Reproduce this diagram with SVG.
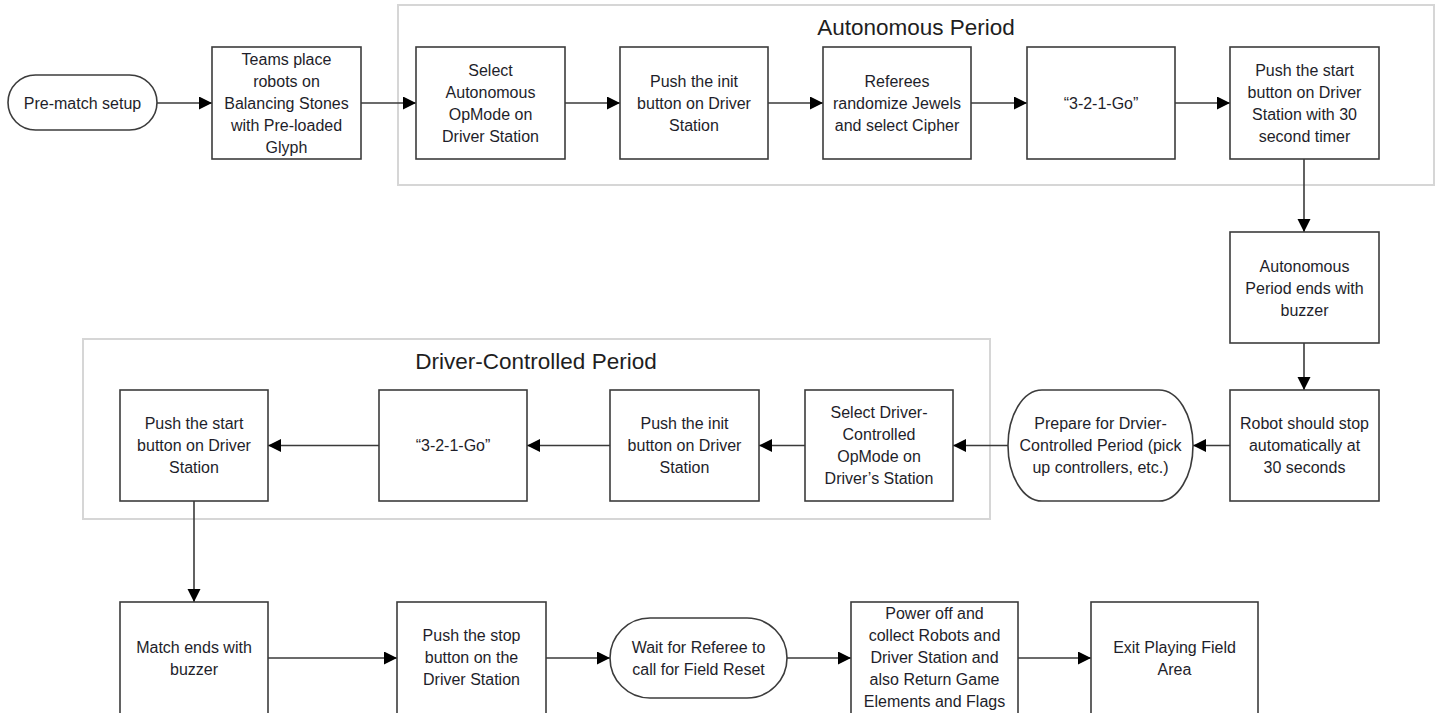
<svg xmlns="http://www.w3.org/2000/svg" width="1435" height="713" viewBox="0 0 1435 713">
<style>
.bg{fill:#ffffff}
.grp{fill:none;stroke:#d6d6d6;stroke-width:2}
.box{fill:#ffffff;stroke:#3c3c3c;stroke-width:1.6}
.t{font-family:"Liberation Sans",Arial,sans-serif;font-size:16px;fill:#1e1e2a;text-anchor:middle}
.title{font-family:"Liberation Sans",Arial,sans-serif;font-size:22.5px;fill:#1e1e1e;text-anchor:middle}
.c{fill:none;stroke:#3a3a3a;stroke-width:1.6}
</style>
<defs>
<marker id="ah" markerUnits="userSpaceOnUse" markerWidth="14" markerHeight="14" refX="13" refY="6.5" orient="auto">
<path d="M0,0 L13,6.5 L0,13 z" fill="#000"/>
</marker>
</defs>
<rect class="bg" x="0" y="0" width="1435" height="713"/>

<g id="group-autonomous">
<rect class="grp" x="398" y="5" width="1036" height="180"/>
<text class="title" x="916" y="35">Autonomous Period</text>
</g>
<g id="group-driver">
<rect class="grp" x="83" y="339" width="907" height="180"/>
<text class="title" x="536" y="369">Driver-Controlled Period</text>
</g>

<g id="connectors">
<line class="c" x1="157" y1="103" x2="212" y2="103" marker-end="url(#ah)"/>
<line class="c" x1="361" y1="103" x2="416" y2="103" marker-end="url(#ah)"/>
<line class="c" x1="565" y1="103" x2="620" y2="103" marker-end="url(#ah)"/>
<line class="c" x1="768" y1="103" x2="823" y2="103" marker-end="url(#ah)"/>
<line class="c" x1="971" y1="103" x2="1027" y2="103" marker-end="url(#ah)"/>
<line class="c" x1="1175" y1="103" x2="1230" y2="103" marker-end="url(#ah)"/>
<line class="c" x1="1304" y1="159" x2="1304" y2="232" marker-end="url(#ah)"/>
<line class="c" x1="1304" y1="343" x2="1304" y2="390" marker-end="url(#ah)"/>
<line class="c" x1="1230" y1="445.5" x2="1193" y2="445.5" marker-end="url(#ah)"/>
<line class="c" x1="1008" y1="445.5" x2="953" y2="445.5" marker-end="url(#ah)"/>
<line class="c" x1="805" y1="445.5" x2="759" y2="445.5" marker-end="url(#ah)"/>
<line class="c" x1="610" y1="445.5" x2="527" y2="445.5" marker-end="url(#ah)"/>
<line class="c" x1="379" y1="445.5" x2="268" y2="445.5" marker-end="url(#ah)"/>
<line class="c" x1="194" y1="501" x2="194" y2="602" marker-end="url(#ah)"/>
<line class="c" x1="268" y1="658" x2="397" y2="658" marker-end="url(#ah)"/>
<line class="c" x1="546" y1="658" x2="610" y2="658" marker-end="url(#ah)"/>
<line class="c" x1="787" y1="658" x2="851" y2="658" marker-end="url(#ah)"/>
<line class="c" x1="1018" y1="658" x2="1091" y2="658" marker-end="url(#ah)"/>
</g>

<g id="n-prematch">
<rect class="box" x="8" y="75" width="149" height="55" rx="27.5" ry="27.5"/>
<text class="t" x="82.5" y="108.5">Pre-match setup</text>
</g>
<g id="n-teams">
<rect class="box" x="212" y="47" width="149" height="112"/>
<text class="t" x="286.5" y="64.5">Teams place<tspan x="286.5" dy="22">robots on</tspan><tspan x="286.5" dy="22">Balancing Stones</tspan><tspan x="286.5" dy="22">with Pre-loaded</tspan><tspan x="286.5" dy="22">Glyph</tspan></text>
</g>
<g id="n-select-auto">
<rect class="box" x="416" y="47" width="149" height="112"/>
<text class="t" x="490.5" y="75.5">Select<tspan x="490.5" dy="22">Autonomous</tspan><tspan x="490.5" dy="22">OpMode on</tspan><tspan x="490.5" dy="22">Driver Station</tspan></text>
</g>
<g id="n-init-auto">
<rect class="box" x="620" y="47" width="148" height="112"/>
<text class="t" x="694" y="86.5">Push the init<tspan x="694" dy="22">button on Driver</tspan><tspan x="694" dy="22">Station</tspan></text>
</g>
<g id="n-referees">
<rect class="box" x="823" y="47" width="148" height="112"/>
<text class="t" x="897" y="86.5">Referees<tspan x="897" dy="22">randomize Jewels</tspan><tspan x="897" dy="22">and select Cipher</tspan></text>
</g>
<g id="n-go-auto">
<rect class="box" x="1027" y="47" width="148" height="112"/>
<text class="t" x="1101" y="108.5">“3-2-1-Go”</text>
</g>
<g id="n-start-auto">
<rect class="box" x="1230" y="47" width="149" height="112"/>
<text class="t" x="1304.5" y="75.5">Push the start<tspan x="1304.5" dy="22">button on Driver</tspan><tspan x="1304.5" dy="22">Station with 30</tspan><tspan x="1304.5" dy="22">second timer</tspan></text>
</g>
<g id="n-auto-ends">
<rect class="box" x="1230" y="232" width="149" height="111"/>
<text class="t" x="1304.5" y="271.5">Autonomous<tspan x="1304.5" dy="22">Period ends with</tspan><tspan x="1304.5" dy="22">buzzer</tspan></text>
</g>
<g id="n-robot-stop">
<rect class="box" x="1230" y="390" width="149" height="111"/>
<text class="t" x="1304.5" y="428.5">Robot should stop<tspan x="1304.5" dy="22">automatically at</tspan><tspan x="1304.5" dy="22">30 seconds</tspan></text>
</g>
<g id="n-prepare">
<rect class="box" x="1008" y="390" width="185" height="111" rx="34" ry="55.5"/>
<text class="t" x="1100.5" y="428.5">Prepare for Drvier-<tspan x="1100.5" dy="22">Controlled Period (pick</tspan><tspan x="1100.5" dy="22">up controllers, etc.)</tspan></text>
</g>
<g id="n-select-dc">
<rect class="box" x="805" y="390" width="148" height="111"/>
<text class="t" x="879" y="417.5">Select Driver-<tspan x="879" dy="22">Controlled</tspan><tspan x="879" dy="22">OpMode on</tspan><tspan x="879" dy="22">Driver’s Station</tspan></text>
</g>
<g id="n-init-dc">
<rect class="box" x="610" y="390" width="149" height="111"/>
<text class="t" x="684.5" y="428.5">Push the init<tspan x="684.5" dy="22">button on Driver</tspan><tspan x="684.5" dy="22">Station</tspan></text>
</g>
<g id="n-go-dc">
<rect class="box" x="379" y="390" width="148" height="111"/>
<text class="t" x="453" y="450.5">“3-2-1-Go”</text>
</g>
<g id="n-start-dc">
<rect class="box" x="120" y="390" width="148" height="111"/>
<text class="t" x="194" y="428.5">Push the start<tspan x="194" dy="22">button on Driver</tspan><tspan x="194" dy="22">Station</tspan></text>
</g>
<g id="n-match-ends">
<rect class="box" x="120" y="602" width="148" height="113"/>
<text class="t" x="194" y="653">Match ends with<tspan x="194" dy="22">buzzer</tspan></text>
</g>
<g id="n-stop">
<rect class="box" x="397" y="602" width="149" height="113"/>
<text class="t" x="471.5" y="640.5">Push the stop<tspan x="471.5" dy="22">button on the</tspan><tspan x="471.5" dy="22">Driver Station</tspan></text>
</g>
<g id="n-wait">
<rect class="box" x="610" y="618" width="177" height="80" rx="40" ry="40"/>
<text class="t" x="698.5" y="653">Wait for Referee to<tspan x="698.5" dy="22">call for Field Reset</tspan></text>
</g>
<g id="n-power-off">
<rect class="box" x="851" y="602" width="167" height="113"/>
<text class="t" x="934.5" y="618.5">Power off and<tspan x="934.5" dy="22">collect Robots and</tspan><tspan x="934.5" dy="22">Driver Station and</tspan><tspan x="934.5" dy="22">also Return Game</tspan><tspan x="934.5" dy="22">Elements and Flags</tspan></text>
</g>
<g id="n-exit">
<rect class="box" x="1091" y="602" width="167" height="113"/>
<text class="t" x="1174.5" y="653">Exit Playing Field<tspan x="1174.5" dy="22">Area</tspan></text>
</g>
</svg>
